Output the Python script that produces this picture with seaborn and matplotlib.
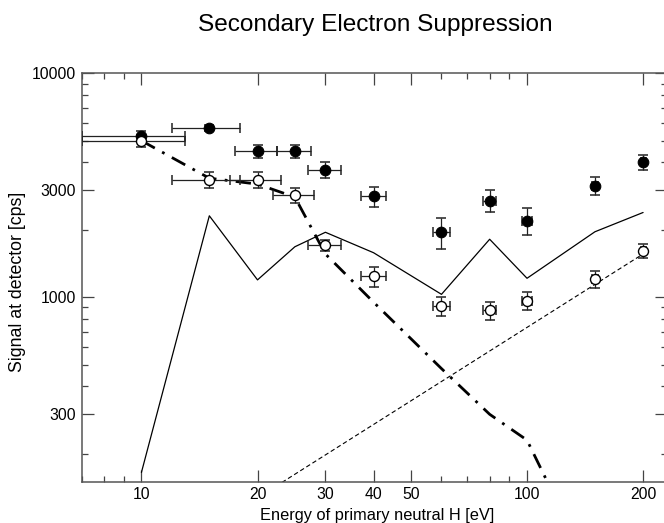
import numpy as np
import seaborn as sns
import matplotlib
matplotlib.use("Agg")
import matplotlib.pyplot as plt
from matplotlib.ticker import FixedLocator, FixedFormatter, LogLocator, NullFormatter

sns.set_theme(style="ticks")
plt.rcParams['font.family'] = ['Liberation Sans', 'DejaVu Sans']

# measured points (energy in eV)
energy = [10, 15, 20, 25, 30, 40, 60, 80, 100, 150, 200]
energy_err = [3, 3, 2.5, 2.5, 3, 3, 3, 3, 3, 3, 3]
energy_err_open = [3, 3, 3, 3, 3, 3, 3, 3, 3, 3, 3]

filled = [5250, 5700, 4500, 4500, 3700, 2820, 1950, 2700, 2200, 3150, 4000]
filled_err = [250, 200, 300, 300, 300, 300, 300, 300, 300, 300, 300]

open_pts = [5000, 3350, 3350, 2850, 1710, 1240, 915, 875, 965, 1205, 1610]
open_err = [300, 280, 265, 220, 100, 125, 90, 80, 90, 100, 110]

# curves
solid_e = [10, 15, 20, 25, 30, 40, 60, 80, 100, 150, 200]
solid_v = [165, 2310, 1195, 1680, 1950, 1580, 1030, 1815, 1215, 1960, 2390]

dashdot_e = [10, 15, 20, 25, 30, 40, 60, 80, 100, 150]
dashdot_v = [5000, 3400, 3200, 2800, 1560, 950, 480, 300, 230, 55]

dashed_e = [20, 200]
dashed_v = [127, 1560]

x_ticks = [10, 20, 30, 40, 50, 100, 200]
y_ticks = [300, 1000, 3000, 10000]

W, H = 664, 523
fig = plt.figure(figsize=(W / 100, H / 100), dpi=100)
fig.patch.set_facecolor("white")
ax = fig.add_axes([81.7 / W, 1 - 481.7 / H, 584.8 / W, 408.4 / H])
ax.set_facecolor("white")
ax.set_xscale("log")
ax.set_yscale("log")

sns.lineplot(x=solid_e, y=solid_v, ax=ax, color="black", linewidth=0.9, zorder=2)
sns.lineplot(x=dashed_e, y=dashed_v, ax=ax, color="black", linewidth=0.8,
             linestyle=(0, (4, 2.5)), zorder=2)
sns.lineplot(x=dashdot_e, y=dashdot_v, ax=ax, color="black", linewidth=2.0,
             linestyle=(0, (5.5, 3, 1, 3)), zorder=2)

ax.errorbar(energy, filled, xerr=energy_err, yerr=filled_err, fmt="none",
            ecolor="#222222", elinewidth=0.9, capsize=3.6, capthick=1.1, zorder=3)
ax.errorbar(energy, open_pts, xerr=energy_err_open, yerr=open_err, fmt="none",
            ecolor="#222222", elinewidth=0.9, capsize=3.6, capthick=1.1, zorder=3)
sns.scatterplot(x=energy, y=filled, ax=ax, color="black", s=58,
                edgecolor="black", linewidth=0.8, zorder=4)
sns.scatterplot(x=energy, y=open_pts, ax=ax, color="white", s=52,
                edgecolor="black", linewidth=1.0, zorder=4)

ax.set_xlim(7, 230)
ax.set_ylim(150, 10000)

ax.xaxis.set_major_locator(FixedLocator(x_ticks))
ax.xaxis.set_major_formatter(FixedFormatter([str(v) for v in x_ticks]))
ax.xaxis.set_minor_locator(LogLocator(base=10, subs=np.arange(2, 10)))
ax.xaxis.set_minor_formatter(NullFormatter())
ax.yaxis.set_major_locator(FixedLocator(y_ticks))
ax.yaxis.set_major_formatter(FixedFormatter([str(v) for v in y_ticks]))
ax.yaxis.set_minor_locator(LogLocator(base=10, subs=np.arange(2, 10)))
ax.yaxis.set_minor_formatter(NullFormatter())

ax.tick_params(which="both", direction="in", top=True, right=True,
               color="#444444", labelsize=11.3, labelcolor="black", pad=4)
ax.tick_params(which="major", length=8.5, width=0.9)
ax.tick_params(which="minor", length=4.3, width=0.9)
for sp in ax.spines.values():
    sp.set_color("#555555")
    sp.set_linewidth(1.1)

ax.set_xlabel("Energy of primary neutral H [eV]", fontsize=11.8, color="black")
ax.set_ylabel("Signal at detector [cps]", fontsize=12.8, color="black")
ax.xaxis.set_label_coords((377 - 81.7) / 584.8, -(508 - 481.7) / 408.4)
ax.yaxis.set_label_coords((26 - 81.7) / 584.8, (481.7 - 281.7) / 408.4)

fig.text(375 / W, 1 - 25 / H, "Secondary Electron Suppression",
         ha="center", va="center", fontsize=17.6, color="black")

fig.savefig("out.png", dpi=100)
